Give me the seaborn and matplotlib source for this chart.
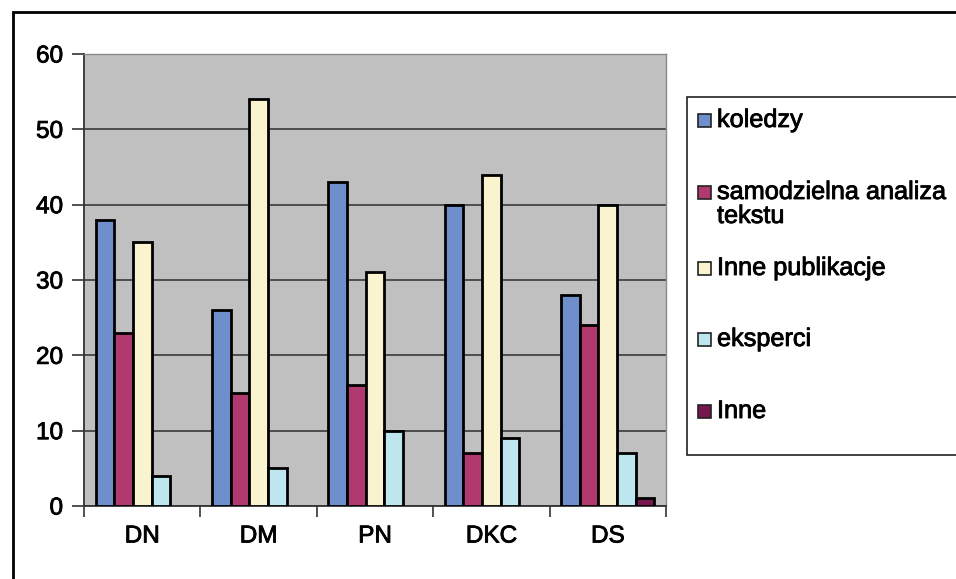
import matplotlib
matplotlib.use("Agg")
import matplotlib.pyplot as plt
import matplotlib.patheffects as pe
import seaborn as sns
import pandas as pd
from matplotlib.patches import Rectangle

# Categories and series values
categories = ["DN", "DM", "PN", "DKC", "DS"]
series = ["koledzy", "samodzielna analiza\ntekstu", "Inne publikacje", "eksperci", "Inne"]
koledzy = [38, 26, 43, 40, 28]
samodzielna = [23, 15, 16, 7, 24]
inne_publikacje = [35, 54, 31, 44, 40]
eksperci = [4, 5, 10, 9, 7]
inne = [0, 0, 0, 0, 1]
yticks = [0, 10, 20, 30, 40, 50, 60]

colors = ["#6f8fcc", "#b03a70", "#faf3cf", "#bde6ef", "#781650"]

rows = []
for name, vals in zip(series, [koledzy, samodzielna, inne_publikacje, eksperci, inne]):
    for cat, v in zip(categories, vals):
        rows.append({"kategoria": cat, "seria": name, "wartosc": v})
df = pd.DataFrame(rows)

sns.set_theme(style="white")
plt.rcParams["font.family"] = ["Liberation Sans", "DejaVu Sans"]

W, H = 956, 579
FS = 17.5
FS_LEG = 18.2
thick = [pe.withStroke(linewidth=0.6, foreground="black")]

fig = plt.figure(figsize=(W / 100, H / 100), dpi=100)
fig.patch.set_facecolor("white")

ax = fig.add_axes([84 / W, 1 - 506 / H, 582 / W, 452 / H])
ax.set_facecolor("#c0c0c0")

sns.barplot(data=df, x="kategoria", y="wartosc", hue="seria", hue_order=series,
            order=categories, palette=colors, width=0.8, edgecolor="black",
            linewidth=2.0, saturation=1, ax=ax, legend=False, zorder=3)

# Empty bars leave no outline on the axis
for bar in ax.patches:
    if bar.get_height() == 0:
        bar.set_visible(False)

ax.set_ylim(0, 60)
ax.set_xlim(-0.5, len(categories) - 0.5)
ax.set_yticks(yticks)
ax.set_yticklabels([str(t) for t in yticks], fontsize=FS, color="black")
ax.set_xticks(range(len(categories)))
ax.set_xticklabels(categories, fontsize=FS, color="black")
for lbl in ax.get_xticklabels() + ax.get_yticklabels():
    lbl.set_path_effects(thick)
ax.set_xlabel("")
ax.set_ylabel("")

# Category boundary ticks on the x axis
ax.set_xticks([i - 0.5 for i in range(len(categories) + 1)], minor=True)
ax.tick_params(axis="x", which="major", length=0, pad=14)
ax.tick_params(axis="x", which="minor", length=8, width=1.2, color="#333333", direction="out", bottom=True)
ax.tick_params(axis="y", which="major", length=9, width=1.2, color="#333333", direction="out", left=True, pad=6)

ax.yaxis.grid(True, color="#2e2e2e", linewidth=1.1, zorder=1)
ax.set_axisbelow(True)

for side in ["left", "bottom"]:
    ax.spines[side].set_color("#333333")
    ax.spines[side].set_linewidth(1.3)
for side in ["top", "right"]:
    ax.spines[side].set_color("#8a8a8a")
    ax.spines[side].set_linewidth(1.0)

def fx(px):
    return px / W

def fy(py):
    return 1 - py / H

# Legend box on the right
fig.patches.append(Rectangle((fx(687), fy(455)), fx(W + 20) - fx(687), fy(97) - fy(455),
                             transform=fig.transFigure, facecolor="white",
                             edgecolor="#222222", linewidth=1.2, clip_on=False))
label_y = [120, 192, 268, 339, 411]
for name, col, yy in zip(series, colors, label_y):
    fig.patches.append(Rectangle((fx(698), fy(yy + 7)), fx(13), 13 / H,
                                 transform=fig.transFigure, facecolor=col,
                                 edgecolor="#222222", linewidth=1.2))
    for k, line in enumerate(name.split("\n")):
        t = fig.text(fx(717), fy(yy + 24 * k), line, fontsize=FS_LEG, color="black",
                     va="center", ha="left")
        t.set_path_effects(thick)

# Outer chart frame
fig.patches.append(Rectangle((fx(13), fy(H + 20)), fx(W + 20), fy(12) - fy(H + 20),
                             transform=fig.transFigure, facecolor="none",
                             edgecolor="black", linewidth=2.0, clip_on=False))

fig.savefig("out.png", dpi=100, facecolor="white")
